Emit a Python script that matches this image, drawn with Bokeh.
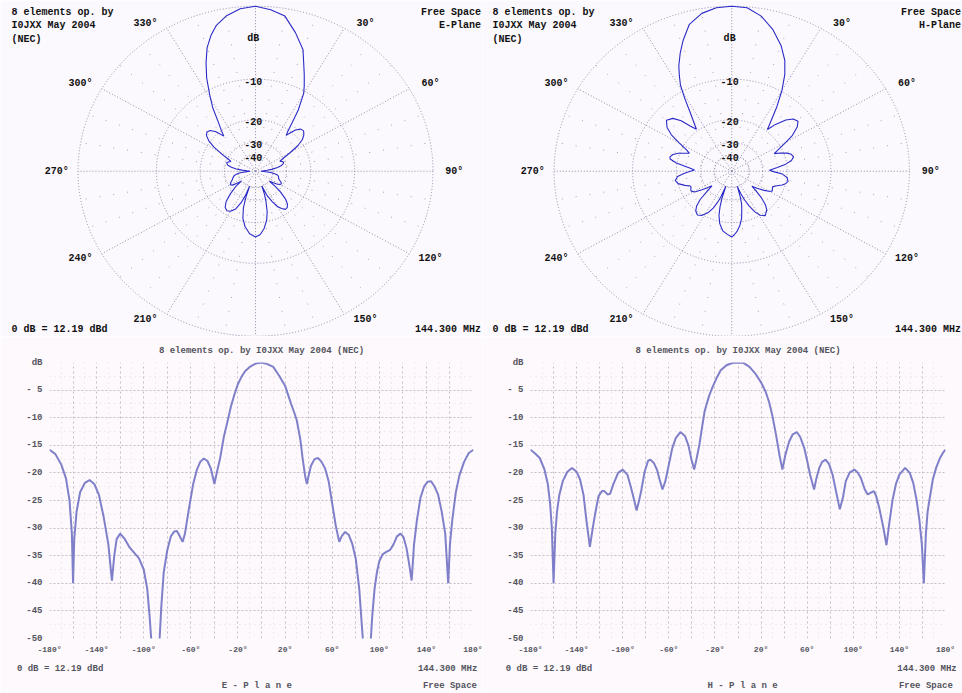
import numpy as np
from bokeh.plotting import figure
from bokeh.layouts import column, row
from bokeh.models import Range1d, FixedTicker, LinearAxis
from bokeh.core.properties import value
from bokeh.embed import file_html
from bokeh.resources import INLINE

# ---------------- data ----------------
e_deg = [-180, -175, -170, -166, -163, -161, -160, -159, -157, -154, -150, -146, -142, -138, -134,
         -130, -127, -125, -123, -120, -116, -112, -108, -104, -100, -97, -95, -93, -90, -87, -85,
         -83, -80, -77, -74, -72, -70, -67, -65, -62, -58, -55, -52, -49, -46, -43, -40, -38, -35,
         -32, -29, -26, -23, -20, -17, -14, -10, -5, 0, 5, 10, 15, 20, 25, 28, 30, 33, 35, 37, 38.5,
         40, 42, 45, 48, 51, 54, 57, 60, 63, 66, 68, 71, 74, 77, 80, 83, 85, 87, 90, 92, 94, 96, 98,
         100, 103, 106, 109, 112, 115, 118, 120.5, 123, 125, 127.5, 129.5, 132, 135, 138, 141, 144,
         147, 150, 153, 156, 158.5, 160, 162, 165, 168, 172, 176, 180]
e_db = [-15.8, -16.6, -18.5, -21, -25, -31, -40, -32, -27, -23.5, -21.8, -21.3, -22, -24, -28,
        -33, -39.5, -35, -32, -31, -32, -33.5, -34.5, -35.5, -37.5, -41, -46, -52, -60, -52, -44,
        -38, -34, -31.5, -30.6, -30.5, -31.2, -32.5, -31, -27, -22, -19.5, -18, -17.4, -17.8, -19.2,
        -22, -20, -17.2, -13.5, -10.8, -8, -5.8, -3.9, -2.6, -1.6, -0.8, -0.2, 0, -0.3, -0.8, -2.4,
        -4.2, -7.4, -9.2, -10.5, -14, -17.5, -20.5, -22, -20.5, -18.7, -17.5, -17.3, -18, -19.2,
        -21.5, -25.5, -29.5, -32.5, -31.5, -30.7, -31.2, -32.8, -35.5, -41, -47, -53, -60, -53,
        -46, -41, -38, -36, -34.7, -34.3, -34, -33, -31.5, -31, -31.6, -33.5, -36, -39.5, -33,
        -28.5, -24.5, -22.5, -21.6, -21.5, -22.5, -24, -27, -31, -40, -33, -28.5, -23.5, -20.5,
        -18, -16.4, -15.8]

h_deg = [-180, -176, -172, -168, -165, -163, -161.5, -160, -158.5, -157, -155, -152, -148, -144,
         -140, -137, -134, -131.5, -128.5, -126, -124, -121, -118, -116, -113, -111, -108, -104,
         -100, -96, -93, -90, -88, -86, -84, -81, -78, -76, -73, -70, -68, -65.5, -63, -60, -57,
         -54, -50, -46, -43, -40.5, -38, -36, -33.5, -31, -29, -27, -25, -22, -19, -15, -10, -5, 0,
         5, 10, 15, 20, 24, 27, 30, 33, 36, 38.5, 41, 44.4, 47.5, 51, 54, 57.5, 60, 62.5, 66, 68,
         70.5, 73, 76, 79, 82, 85, 88.3, 91, 93.5, 97, 101, 104, 106.5, 110, 112.5, 115, 118, 120,
         122.5, 126, 128.8, 131, 134, 137, 140, 145, 149, 152, 155, 157.4, 159.5, 161.2, 163,
         164.5, 166, 169, 172, 175, 178, 180]
h_db = [-15.8, -16.5, -17.3, -19.3, -22, -25.5, -30, -40, -31, -27, -24, -21.5, -19.8, -19.1,
        -19.8, -21.2, -24, -28.6, -33.4, -30, -27.5, -24.2, -23.3, -23.3, -23.9, -23.8, -22, -20,
        -19.4, -20.3, -22.5, -25, -26.8, -25.2, -23.3, -19.8, -17.8, -17.6, -18.2, -19.6, -21.2,
        -23, -21.5, -18.5, -15.5, -13.7, -12.6, -13.3, -15, -17.5, -19.4, -17.5, -14.9, -11.5,
        -8.9, -7.4, -6, -4.4, -3, -1.4, -0.5, -0.1, 0, -0.1, -0.8, -2, -3.6, -5.3, -7.2, -9.8,
        -13.1, -16.8, -19.4, -16.8, -14.3, -13, -12.6, -13.5, -15.5, -17.8, -20.3, -23, -21,
        -19.1, -18, -17.6, -18.4, -20.3, -23.3, -26.6, -24.5, -21.5, -19.9, -19.4, -20, -20.9,
        -23, -23.9, -23.6, -23.3, -24.3, -26.3, -29.8, -33.1, -29.5, -25, -22, -20.3, -19.1, -20,
        -21.8, -25, -28.6, -33, -40, -31, -27, -25, -21.2, -19, -17.4, -16.3, -15.8]

ring_db = [0, -10, -20, -30, -40]
ring_label_db = [-3.5, -10, -20, -30, -40]
ring_labels = ["dB", "-10", "-20", "-30", "-40"]
angle_ticks = [30, 60, 90, 120, 150, 210, 240, 270, 300, 330]
angle_labels = [f"{a}°" for a in angle_ticks]

rect_xticks = [-180, -140, -100, -60, -20, 20, 60, 100, 140, 180]
rect_xlabels = [f"{t}°" for t in rect_xticks]
rect_yticks = [0, -5, -10, -15, -20, -25, -30, -35, -40, -45, -50]
rect_ylabels = ["dB", "- 5", "-10", "-15", "-20", "-25", "-30", "-35", "-40", "-45", "-50"]

head_lines = ["8 elements op. by", "I0JXX May 2004", "(NEC)"]
title_text = "8 elements op. by I0JXX May 2004 (NEC)"
gain_text = "0 dB = 12.19 dBd"
freq_text = "144.300 MHz"
env_text = "Free Space"
planes = ["E-Plane", "H-Plane"]
plane_spaced = ["E - P l a n e", "H - P l a n e"]

# ---------------- styling ----------------
MONO = "Liberation Mono"
BG_P = "#fcf9fe"
BG_R = "#fdf9fc"
CURVE_P = "#2a2ac6"
CURVE_R = "#7272c4"
TXT_R = "#55555f"


def arrl(db):
    """ARRL log-periodic polar scale: radius 0.89 per 2 dB."""
    return 0.89 ** (-np.asarray(db, dtype=float) / 2.0)


def polar_panel(deg, db, plane, w, h, xr, yr, lpad):
    p = figure(width=w, height=h, x_range=Range1d(*xr), y_range=Range1d(*yr),
               output_backend="svg", toolbar_location=None, min_border=0,
               x_axis_location=None, y_axis_location=None,
               background_fill_color=BG_P, border_fill_color=BG_P, outline_line_color=None)
    p.grid.visible = False

    # minor radials every 10 deg
    minor = np.radians([a for a in range(0, 360, 10) if a % 30])
    r0 = float(arrl(-40))
    p.segment(x0=r0 * np.sin(minor), y0=r0 * np.cos(minor), x1=np.sin(minor), y1=np.cos(minor),
              line_color="#8a8aa0", line_width=1, line_dash="1 13", line_alpha=0.8)
    # major radials every 30 deg
    major = np.radians(np.arange(0, 360, 30))
    p.segment(x0=0, y0=0, x1=np.sin(major), y1=np.cos(major),
              line_color="#8c8ca6", line_width=1, line_dash="1 2")
    # rings
    rr = arrl(ring_db)
    p.ellipse(x=0, y=0, width=2 * rr, height=2 * rr, fill_color=None,
              line_color="#8c8ca6", line_width=1, line_dash="1 2")

    # pattern
    t = np.radians(deg)
    r = arrl(db)
    p.line(r * np.sin(t), r * np.cos(t), line_color=CURVE_P, line_width=1.1)

    txt = dict(text_font=value(MONO), text_font_size="10px", text_font_style="bold",
               text_color="#111111", text_baseline="middle")
    # dB labels along 0 deg radial
    p.text(x=-0.012, y=arrl(ring_label_db) - 0.012, text=ring_labels, text_align="center", **txt)
    # angle labels
    ta = np.radians(angle_ticks)
    sx = np.sign(np.round(np.sin(ta), 6))
    sy = np.sign(np.round(np.cos(ta), 6))
    p.text(x=np.sin(ta) + 0.12 * sx, y=np.cos(ta) + 0.03 * sy, text=angle_labels,
           text_align="center", **txt)

    # corner texts
    xl = xr[0] + lpad
    xrt = xr[1] - 0.008
    rows = [0.959, 0.880, 0.801]
    p.text(x=[xl] * 3, y=rows, text=head_lines, text_align="left", **txt)
    p.text(x=[xrt, xrt], y=rows[:2], text=[env_text, plane], text_align="right", **txt)
    p.text(x=[xl], y=[-0.959], text=[gain_text], text_align="left", **txt)
    p.text(x=[xrt], y=[-0.959], text=[freq_text], text_align="right", **txt)
    return p


def text_axis(ticks, labels, standoff):
    ax = LinearAxis(ticker=FixedTicker(ticks=ticks),
                    major_label_overrides={t: l for t, l in zip(ticks, labels)})
    ax.axis_line_color = None
    ax.major_tick_line_color = None
    ax.minor_tick_line_color = None
    ax.major_tick_in = 0
    ax.major_tick_out = 0
    ax.minor_tick_in = 0
    ax.minor_tick_out = 0
    ax.major_label_standoff = standoff
    ax.major_label_text_font = MONO
    ax.major_label_text_font_size = "9px"
    ax.major_label_text_font_style = "bold"
    ax.major_label_text_color = TXT_R
    return ax


def rect_panel(deg, db, plane, w, bl, br, geo):
    p = figure(width=w, height=357, x_range=Range1d(-180, 180), y_range=Range1d(-50, 0),
               output_backend="svg", toolbar_location=None,
               min_border_left=bl, min_border_right=br, min_border_top=26, min_border_bottom=52,
               background_fill_color=BG_R, border_fill_color=BG_R, outline_line_color=None)
    for ax in (p.xaxis, p.yaxis):
        ax.axis_line_color = None
        ax.major_tick_line_color = None
        ax.minor_tick_line_color = None
        ax.major_tick_in = 0
        ax.major_tick_out = 0
        ax.minor_tick_in = 0
        ax.minor_tick_out = 0
        ax.major_label_text_font = MONO
        ax.major_label_text_font_style = "bold"
        ax.major_label_text_color = TXT_R
    p.xaxis.major_label_text_font_size = "8px"
    p.yaxis.major_label_text_font_size = "9px"
    p.xaxis.ticker = FixedTicker(ticks=rect_xticks)
    p.xaxis.major_label_overrides = {t: l for t, l in zip(rect_xticks, rect_xlabels)}
    p.xaxis.major_label_standoff = 6
    p.yaxis.ticker = FixedTicker(ticks=rect_yticks)
    p.yaxis.major_label_overrides = {t: l for t, l in zip(rect_yticks, rect_ylabels)}
    p.yaxis.major_label_standoff = 7

    p.xgrid.ticker = FixedTicker(ticks=list(range(-180, 181, 20)),
                                 minor_ticks=list(range(-170, 180, 20)))
    p.xgrid.grid_line_color = "#c6bcca"
    p.xgrid.grid_line_dash = "2 3"
    p.xgrid.minor_grid_line_color = "#e2dae4"
    p.xgrid.minor_grid_line_dash = "1 4"
    p.ygrid.ticker = FixedTicker(ticks=rect_yticks,
                                 minor_ticks=[-2.5 - 5 * i for i in range(10)])
    p.ygrid.grid_line_color = "#c6bcca"
    p.ygrid.grid_line_dash = "2 2"
    p.ygrid.minor_grid_line_color = "#e4dce6"
    p.ygrid.minor_grid_line_dash = "1 4"

    p.line(deg, db, line_color=CURVE_R, line_width=2, line_alpha=0.9)

    t_off, g_x, f_x, pl_x, en_x = geo
    p.title.text = title_text
    p.title.align = "center"
    p.title.vertical_align = "top"
    p.title.offset = t_off
    p.title.standoff = 10
    p.title.text_font = MONO
    p.title.text_font_size = "9px"
    p.title.text_font_style = "bold"
    p.title.text_color = TXT_R

    p.add_layout(text_axis([g_x, f_x], [gain_text, freq_text], 7), "below")
    p.add_layout(text_axis([pl_x, en_x], [plane, env_text], 4), "below")
    return p


p1 = polar_panel(e_deg, e_db, planes[0], 482, 336, (-1.4366, 1.2789), (-1.0018, 1.0345), 0.062)
p2 = polar_panel(h_deg, h_db, planes[1], 480, 336, (-1.4028, 1.2986), (-1.0018, 1.0345), 0.056)
p3 = rect_panel(e_deg, e_db, plane_spaced[0], 482, 49, 9, (-6, -171, 158, -4, 160))
p4 = rect_panel(h_deg, h_db, plane_spaced[1], 480, 48, 17, (2, -164, 164, 4, 163))

layout = column(row(p1, p2), row(p3, p4))

open("out.html", "w").write(file_html(layout, INLINE))
